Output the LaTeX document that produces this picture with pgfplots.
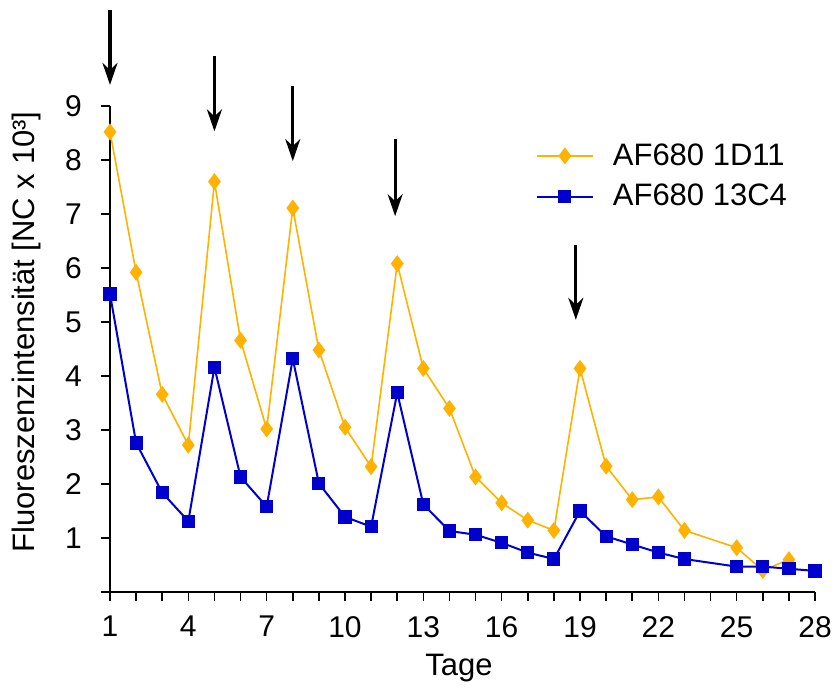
\documentclass[border=0pt]{standalone}
\usepackage{pgfplots}
\pgfplotsset{compat=1.18}
\usepackage{fontspec}
\setmainfont{Liberation Sans}
\usetikzlibrary{arrows.meta,calc}
\definecolor{cOrange}{RGB}{255,178,0}
\definecolor{cBlue}{RGB}{0,0,204}
\begin{document}
\begin{tikzpicture}
\begin{axis}[
  width=352.5pt, height=243pt, scale only axis,
  xmin=1, xmax=28, ymin=0, ymax=9,
  clip=false,
  axis lines*=left,
  axis line style={line width=1pt, black},
  tick style={line width=0.8pt, black},
  tick align=outside,
  major tick length=4.5pt,
  xtick={1,...,28},
  xticklabels={1,,,4,,,7,,,10,,,13,,,16,,,19,,,22,,,25,,,28},
  ytick={0,...,9},
  yticklabels={,1,2,3,4,5,6,7,8,9},
  ticklabel style={font=\fontsize{15pt}{18pt}\selectfont},
  xticklabel style={yshift=-4pt},
  yticklabel style={xshift=-6pt},
  /pgf/number format/assume math mode=true,
  xlabel={Tage},
  ylabel={Fluoreszenzintensität [NC x 10³]},
  label style={font=\fontsize{15.5pt}{18pt}\selectfont},
  xlabel style={at={(axis description cs:0.495,0)}, anchor=center, yshift=-38pt},
  ylabel style={at={(axis description cs:-0.118,0.535)}, anchor=center},
  legend style={at={(axis description cs:0.595,0.94)}, anchor=north west, draw=none, fill=none,
    font=\fontsize{15.5pt}{18pt}\selectfont, row sep=4pt,
    /tikz/every odd column/.append style={column sep=7.5pt}},
  legend cell align=left,
  legend image code/.code={\draw[mark repeat=2,mark phase=2,#1] plot coordinates {(0pt,0pt) (14pt,0pt) (28pt,0pt)};},
]
\coordinate (O) at (rel axis cs:0,0);
\coordinate (T) at (rel axis cs:1,1);
\addplot[color=cOrange, line width=0.8pt, mark=diamond*, mark size=3.6pt, mark options={fill=cOrange, draw=cOrange}] coordinates {
(1,8.52)(2,5.92)(3,3.66)(4,2.72)(5,7.60)(6,4.66)(7,3.02)(8,7.11)(9,4.48)(10,3.05)(11,2.32)(12,6.08)(13,4.14)(14,3.40)(15,2.13)(16,1.65)(17,1.33)(18,1.14)(19,4.14)(20,2.33)(21,1.71)(22,1.76)(23,1.14)(25,0.82)(26,0.40)(27,0.60)};
\addlegendentry{AF680 1D11}
\addplot[color=cBlue, line width=1pt, mark=square*, mark size=2.8pt, mark options={fill=cBlue, draw=cBlue}] coordinates {
(1,5.52)(2,2.76)(3,1.84)(4,1.31)(5,4.16)(6,2.13)(7,1.58)(8,4.32)(9,2.01)(10,1.39)(11,1.21)(12,3.69)(13,1.62)(14,1.13)(15,1.06)(16,0.91)(17,0.73)(18,0.61)(19,1.50)(20,1.03)(21,0.88)(22,0.73)(23,0.61)(25,0.47)(26,0.47)(27,0.43)(28,0.39)};
\addlegendentry{AF680 13C4}
\addplot[forget plot, black, line width=1.6pt, -{Stealth[length=11pt,width=7.5pt,inset=3.5pt]},
  quiver={u=\thisrow{u}, v=\thisrow{v}}] table {
x y u v
1 10.77 0 -1.38
5 9.92 0 -1.39
8 9.37 0 -1.39
11.92 8.38 0 -1.42
18.84 6.43 0 -1.39
};
\end{axis}
\pgfresetboundingbox
\path ($(O)+(-55pt,-49pt)$) rectangle ($(T)+(8.5pt,53pt)$);
\end{tikzpicture}
\end{document}
